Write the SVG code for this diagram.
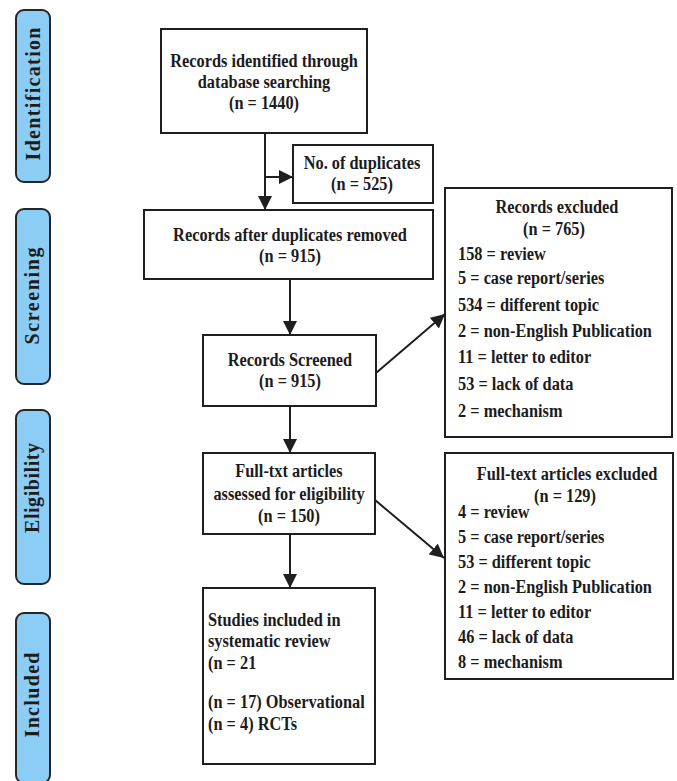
<svg xmlns="http://www.w3.org/2000/svg" width="677" height="781" viewBox="0 0 677 781">
<defs>
<style>
.bg{fill:#ffffff}
.box{fill:#ffffff;stroke:#1f1f1f;stroke-width:2}
.pill{fill:#8ccdf5;stroke:#262626;stroke-width:2}
.t{font-family:"Liberation Serif","Times New Roman",serif;font-weight:bold;font-size:19px;fill:#1c1c1c}
.c{text-anchor:middle}
.s{font-family:"Liberation Serif","Times New Roman",serif;font-weight:bold;font-size:20px;fill:#1c1c1c;text-anchor:middle}
.ln{fill:none;stroke:#1f1f1f;stroke-width:2}
</style>
<marker id="ah" markerUnits="userSpaceOnUse" markerWidth="14" markerHeight="14" refX="14" refY="7" orient="auto">
<path d="M0,0 L14,7 L0,14 z" fill="#1f1f1f"/>
</marker>
</defs>
<rect class="bg" x="0" y="0" width="677" height="781"/>

<g id="phase-identification">
<rect class="pill" x="16" y="10" width="34" height="172" rx="8"/>
<text class="s" transform="translate(39.5,94) rotate(-90)" textLength="133" lengthAdjust="spacing">Identification</text>
</g>
<g id="phase-screening">
<rect class="pill" x="16" y="209" width="34" height="175" rx="8"/>
<text class="s" transform="translate(38.5,296) rotate(-90)" textLength="97" lengthAdjust="spacing">Screening</text>
</g>
<g id="phase-eligibility">
<rect class="pill" x="16" y="410" width="34" height="174" rx="8"/>
<text class="s" transform="translate(38.5,488) rotate(-90)" textLength="90" lengthAdjust="spacing">Eligibility</text>
</g>
<g id="phase-included">
<rect class="pill" x="16" y="613" width="34" height="170" rx="8"/>
<text class="s" transform="translate(39,695) rotate(-90)" textLength="85" lengthAdjust="spacing">Included</text>
</g>

<g id="connectors">
<line class="ln" x1="265" y1="133" x2="265" y2="210" marker-end="url(#ah)"/>
<line class="ln" x1="265" y1="177" x2="293" y2="177" marker-end="url(#ah)"/>
<line class="ln" x1="290" y1="279" x2="290" y2="335" marker-end="url(#ah)"/>
<line class="ln" x1="376" y1="373" x2="445" y2="314" marker-end="url(#ah)"/>
<line class="ln" x1="290" y1="406" x2="290" y2="453" marker-end="url(#ah)"/>
<line class="ln" x1="375" y1="500" x2="444" y2="558" marker-end="url(#ah)"/>
<line class="ln" x1="290" y1="534" x2="290" y2="588" marker-end="url(#ah)"/>
</g>

<g id="records-identified">
<rect class="box" x="161" y="29" width="206" height="104"/>
<text class="t c" transform="translate(264,66.5) scale(0.86 1)">Records identified through</text>
<text class="t c" transform="translate(264,87.5) scale(0.86 1)">database searching</text>
<text class="t c" transform="translate(264,108.5) scale(0.86 1)">(n = 1440)</text>
</g>

<g id="duplicates">
<rect class="box" x="293" y="145" width="140" height="58"/>
<text class="t c" transform="translate(362,169) scale(0.86 1)">No. of duplicates</text>
<text class="t c" transform="translate(362,190) scale(0.86 1)">(n = 525)</text>
</g>

<g id="after-duplicates">
<rect class="box" x="144" y="210" width="289" height="69"/>
<text class="t c" transform="translate(290,241) scale(0.86 1)">Records after duplicates removed</text>
<text class="t c" transform="translate(290,262) scale(0.86 1)">(n = 915)</text>
</g>

<g id="records-screened">
<rect class="box" x="203" y="335" width="173" height="71"/>
<text class="t c" transform="translate(290,366) scale(0.86 1)">Records Screened</text>
<text class="t c" transform="translate(290,387) scale(0.86 1)">(n = 915)</text>
</g>

<g id="records-excluded">
<rect class="box" x="445" y="188" width="227" height="249"/>
<text class="t c" transform="translate(557,213) scale(0.86 1)">Records excluded</text>
<text class="t c" transform="translate(554,235) scale(0.86 1)">(n = 765)</text>
<text class="t" transform="translate(458,260) scale(0.86 1)">158 = review</text>
<text class="t" transform="translate(458,284) scale(0.86 1)">5 = case report/series</text>
<text class="t" transform="translate(458,310.5) scale(0.86 1)">534 = different topic</text>
<text class="t" transform="translate(458,337) scale(0.86 1)">2 = non-English Publication</text>
<text class="t" transform="translate(458,363) scale(0.86 1)">11 = letter to editor</text>
<text class="t" transform="translate(458,390) scale(0.86 1)">53 = lack of data</text>
<text class="t" transform="translate(458,417) scale(0.86 1)">2 = mechanism</text>
</g>

<g id="full-text-assessed">
<rect class="box" x="203" y="453" width="172" height="81"/>
<text class="t c" transform="translate(289,477) scale(0.86 1)">Full-txt articles</text>
<text class="t c" transform="translate(289,500) scale(0.86 1)">assessed for eligibility</text>
<text class="t c" transform="translate(289,522) scale(0.86 1)">(n = 150)</text>
</g>

<g id="full-text-excluded">
<rect class="box" x="445" y="453" width="228" height="226"/>
<text class="t c" transform="translate(567,480) scale(0.86 1)">Full-text articles excluded</text>
<text class="t c" transform="translate(565,502) scale(0.86 1)">(n = 129)</text>
<text class="t" transform="translate(458,518) scale(0.86 1)">4 = review</text>
<text class="t" transform="translate(458,543) scale(0.86 1)">5 = case report/series</text>
<text class="t" transform="translate(458,568) scale(0.86 1)">53 = different topic</text>
<text class="t" transform="translate(458,593) scale(0.86 1)">2 = non-English Publication</text>
<text class="t" transform="translate(458,618) scale(0.86 1)">11 = letter to editor</text>
<text class="t" transform="translate(458,643) scale(0.86 1)">46 = lack of data</text>
<text class="t" transform="translate(458,668) scale(0.86 1)">8 = mechanism</text>
</g>

<g id="studies-included">
<rect class="box" x="203" y="588" width="172" height="176"/>
<text class="t" transform="translate(208,626) scale(0.86 1)">Studies included in</text>
<text class="t" transform="translate(208,647) scale(0.86 1)">systematic review</text>
<text class="t" transform="translate(208,668.5) scale(0.86 1)">(n = 21</text>
<text class="t" transform="translate(208,708) scale(0.86 1)">(n = 17) Observational</text>
<text class="t" transform="translate(208,730) scale(0.86 1)">(n = 4) RCTs</text>
</g>
</svg>
